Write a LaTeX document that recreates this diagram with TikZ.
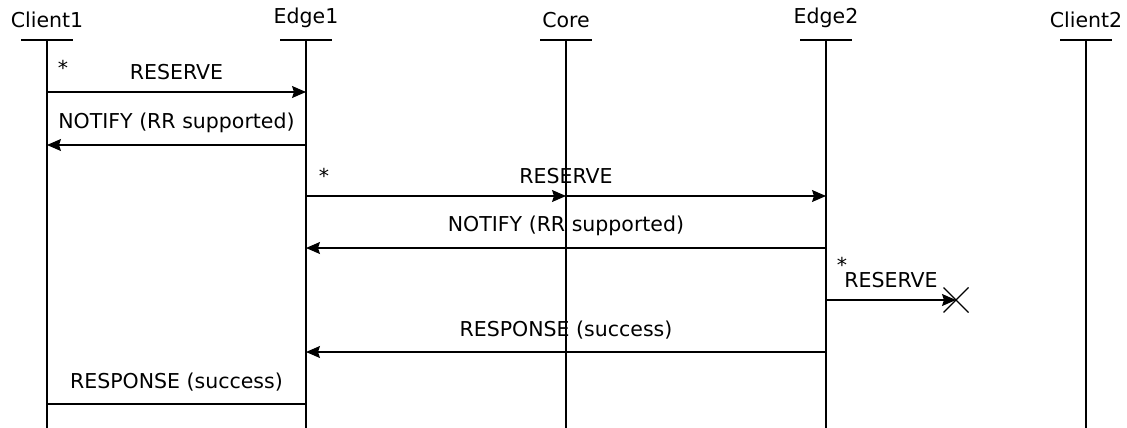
\documentclass[tikz,border=0pt]{standalone}
\usepackage{fontspec}
\setmainfont{DejaVu Sans}
\usetikzlibrary{arrows.meta}
\usetikzlibrary{calc}
\tikzstyle{msg} = [line width=1.2pt,-{Stealth[length=14pt,width=12pt,inset=2pt]},color=black]
\tikzstyle{plain} = [line width=1.2pt,color=black]
\tikzstyle{actor} = [anchor=south, inner sep=0pt, font=\fontsize{20.5}{24}\selectfont]
\tikzstyle{msglabel} = [anchor=south, inner sep=0pt, font=\fontsize{20.5}{24}\selectfont]
\tikzstyle{star} = [anchor=base, inner sep=0pt, font=\fontsize{20.5}{24}\selectfont]

\begin{document}
\begin{tikzpicture}[x=1pt,y=-1pt]
    \useasboundingbox (0,0) rectangle (1127,428);

    % actors
    \node (client1) [actor] at (47,28) {Client1};
    \node (edge1) [actor] at (306,28) {Edge1};
    \node (core) [actor] at (566,28) {Core};
    \node (edge2) [actor] at (826,28) {Edge2};
    \node (client2) [actor] at (1086,28) {Client2};

    % lifelines
    \coordinate (top) at (0,40);
    \coordinate (bottom) at (0,428);
    \foreach \a in {client1,edge1,core,edge2,client2} {
        \draw [plain] ([xshift=-26pt]\a |- top) -- ([xshift=26pt]\a |- top);
        \draw [plain] (\a |- top) -- (\a |- bottom);
    }

    % message rows
    \coordinate (m1) at (0,92);
    \coordinate (m2) at (0,145);
    \coordinate (m3) at (0,196);
    \coordinate (m4) at (0,248);
    \coordinate (m5) at (0,300);
    \coordinate (m6) at (0,352);
    \coordinate (m7) at (0,404);
    \coordinate (lost) at (956,300);

    % first hop
    \draw [msg] (client1 |- m1) -- (edge1 |- m1) node (reserve1) [msglabel, midway, yshift=12pt] {RESERVE};
    \node (star1) [star] at (63,75) {*};
    \draw [msg] (edge1 |- m2) -- (client1 |- m2) node (notify1) [msglabel, midway, yshift=12pt] {NOTIFY (RR supported)};

    % across the core
    \draw [msg] (edge1 |- m3) -- (core |- m3);
    \draw [msg] (core |- m3) -- (edge2 |- m3);
    \node (reserve2) [msglabel, yshift=12pt] at (core |- m3) {RESERVE};
    \node (star2) [star] at (324,183) {*};
    \draw [msg] (edge2 |- m4) -- (edge1 |- m4) node (notify2) [msglabel, midway, yshift=12pt] {NOTIFY (RR supported)};

    % lost message
    \draw [msg] (edge2 |- m5) -- (lost) node (reserve3) [msglabel, midway, yshift=12pt] {RESERVE};
    \node (star3) [star] at (842,272) {*};
    \draw [plain] ($(lost)+(-12.5,-12.5)$) -- ($(lost)+(12.5,12.5)$);
    \draw [plain] ($(lost)+(-12.5,12.5)$) -- ($(lost)+(12.5,-12.5)$);

    % responses
    \draw [msg] (edge2 |- m6) -- (edge1 |- m6) node (response1) [msglabel, midway, yshift=12pt] {RESPONSE (success)};
    \draw [plain] (edge1 |- m7) -- (client1 |- m7) node (response2) [msglabel, midway, yshift=12pt] {RESPONSE (success)};
\end{tikzpicture}
\end{document}
